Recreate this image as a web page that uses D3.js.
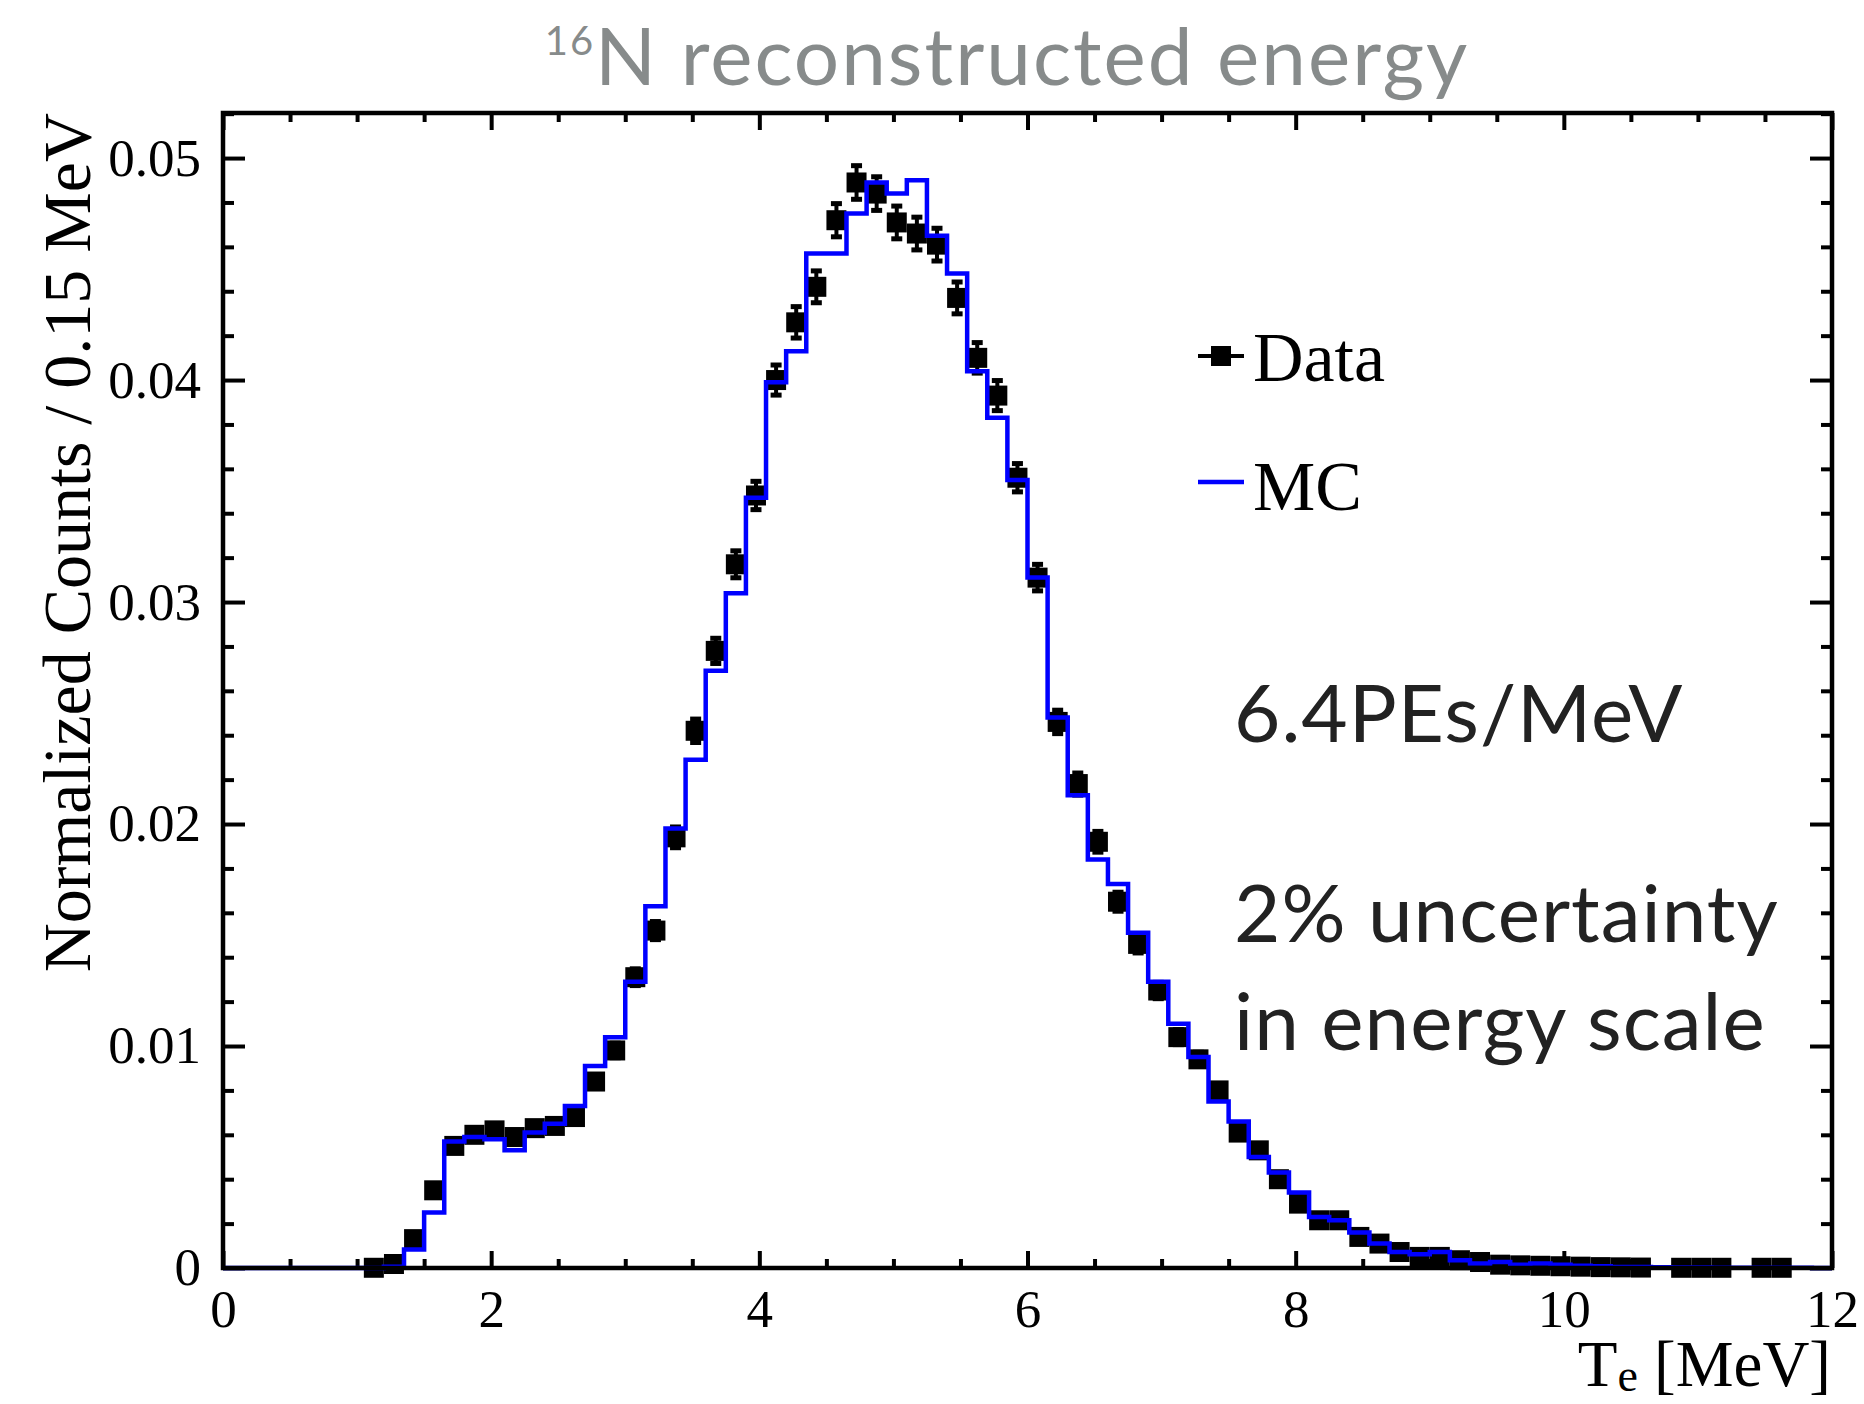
<!DOCTYPE html>
<html>
<head>
<meta charset="utf-8">
<script src="https://cdn.jsdelivr.net/npm/d3@7"></script>
<style>
  body { margin: 0; background: #fff; }
  svg { display: block; }
</style>
</head>
<body>
<div id="chart"></div>
<script>
// histogram binning: 80 bins of 0.15 MeV from 0 to 12 MeV
const binWidth = 0.15;
const binCount = 80;

// data points (bin content), null = empty bin, not drawn
const dataValues = [
    null, null, null, null, null, null, null, 0.00001, 0.00018, 0.0013,
    0.0035, 0.0055, 0.0060, 0.0062, 0.0059, 0.0063, 0.0064, 0.0068, 0.0084, 0.0098,
    0.0131, 0.0152, 0.0194, 0.0242, 0.0278, 0.0317, 0.0348, 0.0400, 0.0426, 0.0442,
    0.0472, 0.0489, 0.0484, 0.0471, 0.0466, 0.0461, 0.0437, 0.0410, 0.0393, 0.0356,
    0.0311, 0.0246, 0.0218, 0.0192, 0.0165, 0.0146, 0.0125, 0.0104, 0.0094, 0.0080,
    0.0061, 0.0053, 0.0040, 0.0029, 0.00215, 0.00215, 0.0014, 0.0011, 0.00072, 0.0005,
    0.0005, 0.00035, 0.00027, 0.00015, 0.00012, 0.0001, 0.00008, 0.00006, 0.00004, 0.00003,
    0.00002, null, 0.00001, 0.00001, 0.00001, null, 0.00001, 0.00001, null, null
];

// statistical error on each data point
const dataErrors = [
    null, null, null, null, null, null, null, 0.00002, 0.00008, 0.0002,
    0.00021, 0.00026, 0.00027, 0.00028, 0.00027, 0.00028, 0.00028, 0.00029, 0.00032, 0.00035,
    0.0004, 0.00043, 0.00049, 0.00055, 0.00059, 0.00063, 0.00066, 0.0007, 0.00073, 0.00074,
    0.00077, 0.00078, 0.00078, 0.00076, 0.00076, 0.00076, 0.00074, 0.00071, 0.0007, 0.00066,
    0.00062, 0.00055, 0.00052, 0.00049, 0.00045, 0.00043, 0.00039, 0.00036, 0.00034, 0.00032,
    0.00028, 0.00026, 0.00022, 0.00019, 0.00016, 0.00016, 0.00013, 0.00012, 0.0001, 0.00008,
    0.00008, 0.00007, 0.00006, 0.00004, 0.00004, 0.00004, 0.00003, 0.00003, 0.00002, 0.00002,
    0.00002, null, 0.00001, 0.00001, 0.00001, null, 0.00001, 0.00001, null, null
];

// MC histogram
const mcValues = [
    0, 0, 0, 0, 0, 0, 0, 0, 0.00006, 0.00083,
    0.0025, 0.0057, 0.0059, 0.0058, 0.0053, 0.0061, 0.0065, 0.0073, 0.0091, 0.0104,
    0.0129, 0.0163, 0.0198, 0.0229, 0.0269, 0.0304, 0.0347, 0.0399, 0.0413, 0.0457,
    0.0457, 0.0475, 0.0489, 0.0484, 0.0490, 0.0465, 0.0448, 0.0404, 0.0383, 0.0355,
    0.0311, 0.0248, 0.0213, 0.0184, 0.0173, 0.0151, 0.0129, 0.0110, 0.0095, 0.0075,
    0.0066, 0.0050, 0.0043, 0.0034, 0.0023, 0.00215, 0.0016, 0.0011, 0.00072, 0.00062,
    0.00072, 0.00035, 0.0002, 0.00027, 0.00015, 0.0002, 0.00015, 0.0001, 0.00008, 0.00005,
    0.00005, 0.00003, 0.00002, 0.00002, 0.00001, 0.00001, 0.00001, 0.00001, 0.00001, 0
];

const xTicks = [0, 2, 4, 6, 8, 10, 12];
const xTickLabels = ["0", "2", "4", "6", "8", "10", "12"];
const yTicks = [0, 0.01, 0.02, 0.03, 0.04, 0.05];
const yTickLabels = ["0", "0.01", "0.02", "0.03", "0.04", "0.05"];
const annotationLines = ["6.4PEs/MeV", "2% uncertainty", "in energy scale"];

const width = 1864;
const height = 1404;
const serif = "'Liberation Serif', 'Times New Roman', serif";
const sans = "Lato, 'Noto Sans', sans-serif";

const svg = d3.select("#chart").append("svg")
    .attr("width", width)
    .attr("height", height);

const x = d3.scaleLinear().domain([0, 12]).range([223, 1832]);
const y = d3.scaleLinear().domain([0, 0.05203]).range([1268, 113]);

const xMinor = d3.range(0, 12.01, 0.5).filter(v => v % 2 !== 0);
const yMinor = d3.range(0, 0.0521, 0.002).filter(v => Math.abs(v * 100 - Math.round(v * 100)) > 1e-6);

function drawAxis(axis, tx, ty) {
    const g = svg.append("g")
        .attr("transform", `translate(${tx},${ty})`)
        .call(axis);
    g.select(".domain").remove();
    g.selectAll(".tick line").attr("stroke", "#000").attr("stroke-width", 4);
    g.selectAll(".tick text")
        .attr("fill", "#000")
        .style("font-family", serif)
        .style("font-size", "53px");
    return g;
}

// ticks point inwards on all four sides
drawAxis(d3.axisBottom(x).tickValues(xTicks).tickSize(-17).tickPadding(21)
    .tickFormat((d, i) => xTickLabels[i]), 0, y(0));
drawAxis(d3.axisBottom(x).tickValues(xMinor).tickSize(-9).tickFormat(""), 0, y(0));
drawAxis(d3.axisTop(x).tickValues(xTicks).tickSize(-17).tickFormat(""), 0, 113);
drawAxis(d3.axisTop(x).tickValues(xMinor).tickSize(-9).tickFormat(""), 0, 113);
drawAxis(d3.axisLeft(y).tickValues(yTicks).tickSize(-22).tickPadding(22)
    .tickFormat((d, i) => yTickLabels[i]), x(0), 0);
drawAxis(d3.axisLeft(y).tickValues(yMinor).tickSize(-11).tickFormat(""), x(0), 0);
drawAxis(d3.axisRight(y).tickValues(yTicks).tickSize(-22).tickFormat(""), x(12), 0);
drawAxis(d3.axisRight(y).tickValues(yMinor).tickSize(-11).tickFormat(""), x(12), 0);

// data points with error bars
const points = dataValues
    .map((v, i) => ({ center: (i + 0.5) * binWidth, v: v, err: dataErrors[i] }))
    .filter(d => d.v !== null);

const pts = svg.append("g");
pts.selectAll(".err")
    .data(points)
    .enter().append("line")
    .attr("x1", d => x(d.center))
    .attr("x2", d => x(d.center))
    .attr("y1", d => y(d.v - d.err))
    .attr("y2", d => y(d.v + d.err))
    .attr("stroke", "#000")
    .attr("stroke-width", 4);
pts.selectAll(".capTop")
    .data(points)
    .enter().append("rect")
    .attr("x", d => x(d.center) - 5.5)
    .attr("y", d => y(d.v + d.err) - 2)
    .attr("width", 11)
    .attr("height", 5)
    .attr("fill", "#000");
pts.selectAll(".capBottom")
    .data(points)
    .enter().append("rect")
    .attr("x", d => x(d.center) - 5.5)
    .attr("y", d => y(d.v - d.err) - 3)
    .attr("width", 11)
    .attr("height", 5)
    .attr("fill", "#000");
pts.selectAll(".marker")
    .data(points)
    .enter().append("rect")
    .attr("x", d => x(d.center) - 10)
    .attr("y", d => y(d.v) - 10)
    .attr("width", 20)
    .attr("height", 20)
    .attr("fill", "#000");

// MC step histogram, drawn on top of the data
const mcSteps = mcValues.map((v, i) => [i * binWidth, v]);
mcSteps.push([binCount * binWidth, mcValues[binCount - 1]]);
svg.append("path")
    .datum(mcSteps)
    .attr("d", d3.line().x(d => x(d[0])).y(d => y(d[1])).curve(d3.curveStepAfter))
    .attr("fill", "none")
    .attr("stroke", "#0000ff")
    .attr("stroke-width", 4.5);

// frame
svg.append("rect")
    .attr("x", x(0))
    .attr("y", y.range()[1])
    .attr("width", x(12) - x(0))
    .attr("height", y(0) - y.range()[1])
    .attr("fill", "none")
    .attr("stroke", "#000")
    .attr("stroke-width", 4.5);

// axis titles
const xTitle = svg.append("text")
    .attr("x", 1831)
    .attr("y", 1386)
    .attr("text-anchor", "end")
    .style("font-family", serif)
    .style("font-size", "65px");
xTitle.append("tspan").text("T");
xTitle.append("tspan").attr("dy", 5).style("font-size", "46px").text("e");
xTitle.append("tspan").attr("dy", -5).text(" [MeV]");

svg.append("text")
    .attr("transform", "translate(90,113) rotate(-90)")
    .attr("text-anchor", "end")
    .style("font-family", serif)
    .style("font-size", "68px")
    .text("Normalized Counts / 0.15 MeV");

// title
const title = svg.append("text")
    .attr("x", 1007)
    .attr("y", 85)
    .attr("text-anchor", "middle")
    .attr("fill", "#878b8b")
    .style("font-family", sans)
    .style("letter-spacing", "2px");
title.append("tspan").attr("dy", -30).style("font-size", "40px").text("16");
title.append("tspan").attr("dy", 30).style("font-size", "80px").text("N reconstructed energy");

// legend
const legend = svg.append("g").style("font-family", serif).style("font-size", "70px");
legend.append("line")
    .attr("x1", 1198).attr("x2", 1244).attr("y1", 356).attr("y2", 356)
    .attr("stroke", "#000").attr("stroke-width", 4);
legend.append("rect")
    .attr("x", 1211).attr("y", 346).attr("width", 20).attr("height", 20)
    .attr("fill", "#000");
legend.append("text").attr("x", 1253).attr("y", 381).text("Data");
legend.append("line")
    .attr("x1", 1198).attr("x2", 1244).attr("y1", 482).attr("y2", 482)
    .attr("stroke", "#0000ff").attr("stroke-width", 4.5);
legend.append("text").attr("x", 1253).attr("y", 510).text("MC");

// annotation
const noteY = [742, 942, 1050];
svg.append("g")
    .selectAll("text")
    .data(annotationLines)
    .enter().append("text")
    .attr("x", 1234)
    .attr("y", (d, i) => noteY[i])
    .attr("fill", "#222")
    .style("font-family", sans)
    .style("font-size", "80px")
    .style("letter-spacing", "1px")
    .text(d => d);
</script>
</body>
</html>
